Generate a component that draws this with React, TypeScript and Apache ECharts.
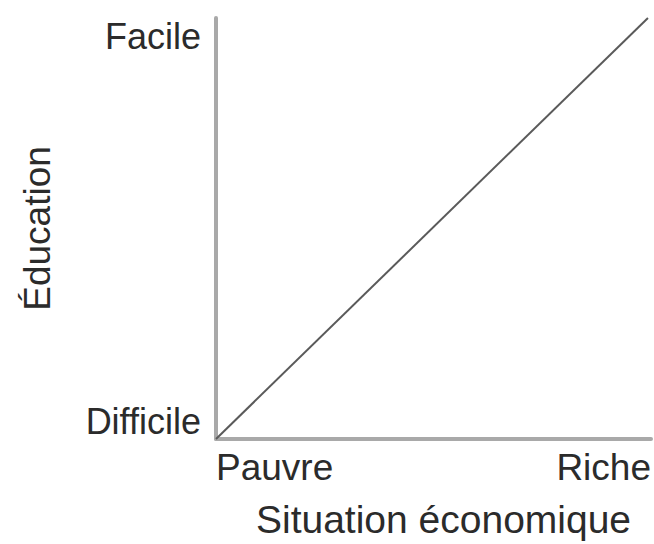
import React, { useEffect, useRef } from "react";
import * as echarts from "echarts";

const xTickLabels = ["Pauvre", "Riche"];
const yTickLabels = ["Difficile", "Facile"];
const xName = "Situation économique";
const yName = "Éducation";
const lineData: [number, number][] = [
  [0, 0],
  [99.3, 100],
];

export default function App() {
  const ref = useRef<HTMLDivElement>(null);
  useEffect(() => {
    if (!ref.current) return;
    const chart = echarts.init(ref.current, undefined, { renderer: "svg" });
    const font = "'Liberation Sans', Arial, sans-serif";
    const textColor = "#2b2b2b";
    chart.setOption({
      animation: false,
      backgroundColor: "#ffffff",
      grid: { left: 216, top: 18, right: 0, bottom: 105, containLabel: false },
      xAxis: {
        type: "value",
        min: 0,
        max: 100,
        interval: 100,
        name: xName,
        nameLocation: "middle",
        nameGap: 61,
        nameTextStyle: {
          fontFamily: font,
          fontSize: 39,
          color: textColor,
          padding: [0, 0, 0, 20],
        },
        axisLine: { show: true, lineStyle: { color: "#a9a9a9", width: 4 } },
        axisTick: { show: false },
        splitLine: { show: false },
        axisLabel: {
          margin: 10,
          fontFamily: font,
          fontSize: 37,
          color: textColor,
          alignMinLabel: "left",
          alignMaxLabel: "right",
          formatter: (v: number) => (v === 0 ? xTickLabels[0] : xTickLabels[1]),
        },
      },
      yAxis: {
        type: "value",
        min: 0,
        max: 100,
        interval: 100,
        name: yName,
        nameLocation: "middle",
        nameGap: 160,
        nameRotate: 90,
        nameTextStyle: { fontFamily: font, fontSize: 37, color: textColor },
        axisLine: { show: true, lineStyle: { color: "#a9a9a9", width: 4 } },
        axisTick: { show: false },
        splitLine: { show: false },
        axisLabel: {
          margin: 15,
          fontFamily: font,
          fontSize: 36,
          color: textColor,
          verticalAlignMinLabel: "bottom",
          verticalAlignMaxLabel: "top",
          formatter: (v: number) => (v === 0 ? yTickLabels[0] : yTickLabels[1]),
        },
      },
      series: [
        {
          type: "line",
          data: lineData,
          symbol: "none",
          lineStyle: { color: "#5a5a5a", width: 2 },
        },
      ],
    });
    return () => chart.dispose();
  }, []);
  return (
    <div
      ref={ref}
      style={{ position: "fixed", left: 0, top: 0, width: 654, height: 544 }}
    />
  );
}
